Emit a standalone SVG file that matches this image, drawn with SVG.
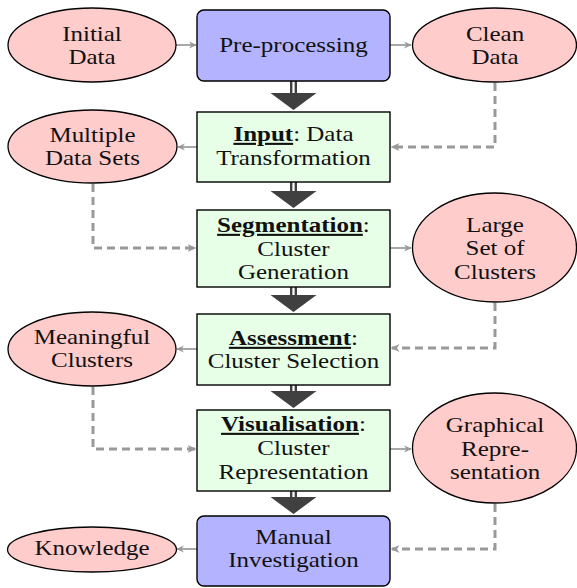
<svg xmlns="http://www.w3.org/2000/svg" width="577" height="588" viewBox="0 0 577 588">
<style>
.ell{fill:#ffcccc;stroke:#000;stroke-width:1.3}
.blue{fill:#b3b3ff;stroke:#000;stroke-width:1.4}
.green{fill:#e6ffe6;stroke:#000;stroke-width:1.4}
.t{font-family:"Liberation Serif","Times New Roman",serif;font-size:21px;fill:#111;text-anchor:middle}
.b{font-weight:bold;text-decoration:underline}
.sol{fill:none;stroke:#999;stroke-width:1.7;marker-end:url(#ah)}
.dash{fill:none;stroke:#999;stroke-width:3;stroke-dasharray:8 5;marker-end:url(#ah2)}
.stem{stroke:#404040;stroke-width:7}
.stemin{stroke:#fff;stroke-width:2.2}
.head{fill:#404040}
</style>
<defs>
<marker id="ah" markerWidth="9" markerHeight="8" refX="7" refY="4" orient="auto" markerUnits="userSpaceOnUse">
<path d="M0,0.5 L8,4 L0,7.5 L2.5,4 z" fill="#999"/>
</marker>
<marker id="ah2" markerWidth="10" markerHeight="9" refX="7.5" refY="4.5" orient="auto" markerUnits="userSpaceOnUse">
<path d="M0,0.5 L9,4.5 L0,8.5 L2.5,4.5 z" fill="#999"/>
</marker>
</defs>

<g id="connectors">
<line class="sol" x1="176" y1="45" x2="196" y2="45"/>
<line class="sol" x1="390" y1="45" x2="411" y2="45"/>
<line class="sol" x1="197" y1="147" x2="178" y2="147"/>
<line class="sol" x1="390" y1="248" x2="411" y2="248"/>
<line class="sol" x1="197" y1="349" x2="177" y2="349"/>
<line class="sol" x1="390" y1="449" x2="411" y2="449"/>
<line class="sol" x1="197" y1="549" x2="177" y2="549"/>
<path class="dash" d="M495,83 V147 H392"/>
<path class="dash" d="M93,184 V248 H195"/>
<path class="dash" d="M495,303 V348 H392"/>
<path class="dash" d="M93,387 V449 H195"/>
<path class="dash" d="M495,504 V549 H392"/>
<line class="stem" x1="293.5" y1="81" x2="293.5" y2="94"/>
<line class="stemin" x1="293.5" y1="81" x2="293.5" y2="94"/>
<polygon class="head" points="270.5,93 316.5,93 293.5,110"/>
<line class="stem" x1="293.5" y1="182" x2="293.5" y2="192"/>
<line class="stemin" x1="293.5" y1="182" x2="293.5" y2="192"/>
<polygon class="head" points="270.5,191 316.5,191 293.5,208"/>
<line class="stem" x1="293.5" y1="287" x2="293.5" y2="296"/>
<line class="stemin" x1="293.5" y1="287" x2="293.5" y2="296"/>
<polygon class="head" points="270.5,295 316.5,295 293.5,312"/>
<line class="stem" x1="293.5" y1="385" x2="293.5" y2="392"/>
<line class="stemin" x1="293.5" y1="385" x2="293.5" y2="392"/>
<polygon class="head" points="270.5,391 316.5,391 293.5,408"/>
<line class="stem" x1="293.5" y1="491" x2="293.5" y2="498"/>
<line class="stemin" x1="293.5" y1="491" x2="293.5" y2="498"/>
<polygon class="head" points="270.5,497 316.5,497 293.5,514"/>
</g>

<g id="initial-data">
<ellipse class="ell" cx="92" cy="45" rx="84" ry="37"/>
<text class="t" transform="scale(1.19 1)"><tspan x="77.3" y="41">Initial</tspan><tspan x="77.3" y="64">Data</tspan></text>
</g>
<g id="pre-processing">
<rect class="blue" x="197" y="10" width="193" height="71" rx="7"/>
<text class="t" transform="scale(1.19 1)" x="246.6" y="52">Pre-processing</text>
</g>
<g id="clean-data">
<ellipse class="ell" cx="494.5" cy="45" rx="82" ry="37"/>
<text class="t" transform="scale(1.19 1)"><tspan x="416" y="41">Clean</tspan><tspan x="416" y="64">Data</tspan></text>
</g>
<g id="multiple-data-sets">
<ellipse class="ell" cx="92.5" cy="146.5" rx="84.5" ry="36.5"/>
<text class="t" transform="scale(1.19 1)"><tspan x="77.7" y="142">Multiple</tspan><tspan x="77.7" y="165">Data Sets</tspan></text>
</g>
<g id="input">
<rect class="green" x="197" y="112" width="193" height="70"/>
<text class="t" transform="scale(1.19 1)"><tspan x="246.6" y="141"><tspan class="b">Input</tspan>: Data</tspan><tspan x="246.6" y="165">Transformation</tspan></text>
</g>
<g id="segmentation">
<rect class="green" x="197" y="210" width="193" height="77"/>
<text class="t" transform="scale(1.19 1)"><tspan x="246.6" y="232"><tspan class="b">Segmentation</tspan>:</tspan><tspan x="246.6" y="256">Cluster</tspan><tspan x="246.6" y="279.5">Generation</tspan></text>
</g>
<g id="large-set-of-clusters">
<ellipse class="ell" cx="494.5" cy="247.5" rx="82" ry="54.5"/>
<text class="t" transform="scale(1.19 1)"><tspan x="416" y="232">Large</tspan><tspan x="416" y="255">Set of</tspan><tspan x="416" y="279">Clusters</tspan></text>
</g>
<g id="meaningful-clusters">
<ellipse class="ell" cx="92" cy="349" rx="84" ry="37"/>
<text class="t" transform="scale(1.19 1)"><tspan x="77.3" y="344.5">Meaningful</tspan><tspan x="77.3" y="367.5">Clusters</tspan></text>
</g>
<g id="assessment">
<rect class="green" x="197" y="314" width="193" height="71"/>
<text class="t" transform="scale(1.19 1)"><tspan x="246.6" y="345"><tspan class="b">Assessment</tspan>:</tspan><tspan x="246.6" y="368.5">Cluster Selection</tspan></text>
</g>
<g id="visualisation">
<rect class="green" x="197" y="410" width="193" height="81"/>
<text class="t" transform="scale(1.19 1)"><tspan x="246.6" y="431"><tspan class="b">Visualisation</tspan>:</tspan><tspan x="246.6" y="455">Cluster</tspan><tspan x="246.6" y="479">Representation</tspan></text>
</g>
<g id="graphical-representation">
<ellipse class="ell" cx="494.5" cy="448" rx="82" ry="55"/>
<text class="t" transform="scale(1.19 1)"><tspan x="416" y="432.5">Graphical</tspan><tspan x="416" y="456">Repre-</tspan><tspan x="416" y="479.5">sentation</tspan></text>
</g>
<g id="manual-investigation">
<rect class="blue" x="197" y="516" width="193" height="70" rx="7"/>
<text class="t" transform="scale(1.19 1)"><tspan x="246.6" y="544.5">Manual</tspan><tspan x="246.6" y="567.5">Investigation</tspan></text>
</g>
<g id="knowledge">
<ellipse class="ell" cx="92" cy="549.5" rx="84.5" ry="22.5"/>
<text class="t" transform="scale(1.19 1)" x="77.3" y="555">Knowledge</text>
</g>
</svg>
